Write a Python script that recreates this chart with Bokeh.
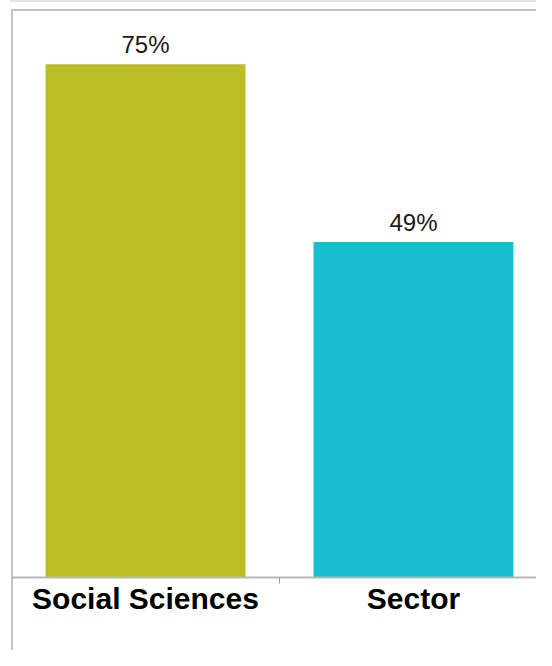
from bokeh.plotting import figure
from bokeh.models import Range1d, FixedTicker, ColumnDataSource
from bokeh.core.properties import value
from bokeh.embed import file_html
from bokeh.resources import INLINE

categories = ["Social Sciences", "Sector"]
percent = [75, 49]
colors = ["#BCBD22", "#17BECF"]

xs = [i + 0.5 for i in range(len(categories))]
labels = [f"{v}%" for v in percent]
src = ColumnDataSource(dict(x=xs, top=percent, color=colors, label=labels))

W, H = 536, 650
LEFT, TOP, BOTTOM = 11, 10, 73
cat_px = 268.0
frame_w = W - LEFT
frame_h = H - TOP - BOTTOM

bg = ("linear-gradient(#c4c4c4,#c4c4c4) 11px 9px / 2px 100% no-repeat, "
      "linear-gradient(#c4c4c4,#c4c4c4) 11px 9px / 100% 2px no-repeat, "
      "linear-gradient(#e4e4e4,#e4e4e4) 10px 0px / 100% 2px no-repeat, #ffffff")

p = figure(width=W, height=H, output_backend="svg", toolbar_location=None,
           x_range=Range1d(0, frame_w / cat_px), y_range=Range1d(0, 82.84),
           min_border_left=LEFT, min_border_right=0, min_border_top=TOP,
           min_border_bottom=BOTTOM, y_axis_location=None,
           styles={"background": bg})
p.border_fill_color = None
p.background_fill_color = None
p.outline_line_color = None
p.xgrid.visible = False
p.ygrid.visible = False

p.vbar(x="x", top="top", width=0.746, bottom=0, color="color", line_color=None, source=src)
p.text(x="x", y="top", text="label", source=src, text_align="center",
       text_baseline="alphabetic", y_offset=-20, text_font=value("Liberation Sans"),
       text_font_size="24px", text_color="#1a1a1a")

ax = p.xaxis[0]
ax.ticker = FixedTicker(ticks=xs, minor_ticks=[1.0])
ax.major_label_overrides = {x: c for x, c in zip(xs, categories)}
ax.major_tick_out = 0
ax.major_tick_in = 0
ax.minor_tick_out = 6
ax.minor_tick_in = 0
ax.minor_tick_line_color = "#9a9a9a"
ax.axis_line_color = "#b8b8b8"
ax.axis_line_width = 2
ax.major_label_standoff = -2
ax.major_label_text_font = "Liberation Sans"
ax.major_label_text_font_style = "bold"
ax.major_label_text_font_size = "30px"
ax.major_label_text_color = "#000000"

open("out.html", "w").write(file_html(p, INLINE))
